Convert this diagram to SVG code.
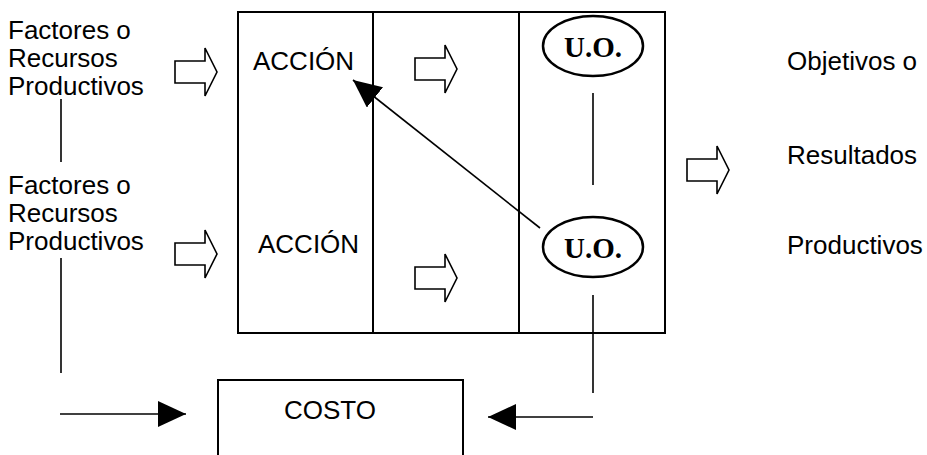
<svg xmlns="http://www.w3.org/2000/svg" width="927" height="455" viewBox="0 0 927 455">
<style>
.t{font-family:"Liberation Sans",Arial,sans-serif;font-size:26px;fill:#000}
.uo{font-family:"Liberation Serif","Times New Roman",serif;font-size:29px;font-weight:bold;fill:#000}
.box{fill:none;stroke:#000;stroke-width:2}
.ell{fill:none;stroke:#000;stroke-width:2.5}
.ln{fill:none;stroke:#000;stroke-width:1.6}
.blk{fill:#fff;stroke:#000;stroke-width:1.6}
</style>
<defs>
<path id="ba" d="M0,-11 H30 V-24 L42,0 L30,24 V11 H0 Z"/>
<marker id="ah" markerUnits="userSpaceOnUse" markerWidth="30" markerHeight="28" refX="28" refY="13" orient="auto">
<path d="M0,0 L28,13 L0,26 Z" fill="#000"/>
</marker>
</defs>
<g id="main-box">
<rect class="box" x="238" y="12" width="427" height="321"/>
<line class="box" x1="373" y1="12" x2="373" y2="333"/>
<line class="box" x1="519" y1="12" x2="519" y2="333"/>
</g>
<g id="factores-1"><text class="t" x="8" y="39">Factores o</text><text class="t" x="8" y="67">Recursos</text><text class="t" x="8" y="95">Productivos</text></g>
<g id="factores-2"><text class="t" x="8" y="194">Factores o</text><text class="t" x="8" y="222">Recursos</text><text class="t" x="8" y="250">Productivos</text></g>
<g id="accion-1"><text class="t" x="253" y="70">ACCIÓN</text></g>
<g id="accion-2"><text class="t" x="258" y="253">ACCIÓN</text></g>
<g id="uo-1"><ellipse class="ell" cx="593" cy="46" rx="50" ry="30"/><text class="uo" x="593" y="57" text-anchor="middle">U.O.</text></g>
<g id="uo-2"><ellipse class="ell" cx="593" cy="247" rx="50" ry="30"/><text class="uo" x="593" y="258" text-anchor="middle">U.O.</text></g>
<g id="objetivos"><text class="t" x="787" y="70">Objetivos o</text><text class="t" x="787" y="164">Resultados</text><text class="t" x="787" y="254">Productivos</text></g>
<g id="costo"><path class="box" d="M218,455 V380 H463 V455"/><text class="t" x="330" y="419" text-anchor="middle" font-size="28">COSTO</text></g>
<g id="block-arrows">
<use href="#ba" class="blk" x="175" y="72"/>
<use href="#ba" class="blk" x="415" y="69"/>
<use href="#ba" class="blk" x="175" y="254"/>
<use href="#ba" class="blk" x="415" y="278"/>
<use href="#ba" class="blk" x="687" y="170"/>
</g>
<g id="connectors">
<line class="ln" x1="61" y1="99" x2="61" y2="162"/>
<line class="ln" x1="61" y1="258" x2="61" y2="373"/>
<line class="ln" x1="60" y1="414" x2="186" y2="414" marker-end="url(#ah)"/>
<line class="ln" x1="593" y1="93" x2="593" y2="185"/>
<line class="ln" x1="593" y1="295" x2="593" y2="393"/>
<line class="ln" x1="593" y1="417" x2="488" y2="417" marker-end="url(#ah)"/>
<line class="ln" x1="540" y1="228" x2="353" y2="80" marker-end="url(#ah)"/>
</g>
</svg>
